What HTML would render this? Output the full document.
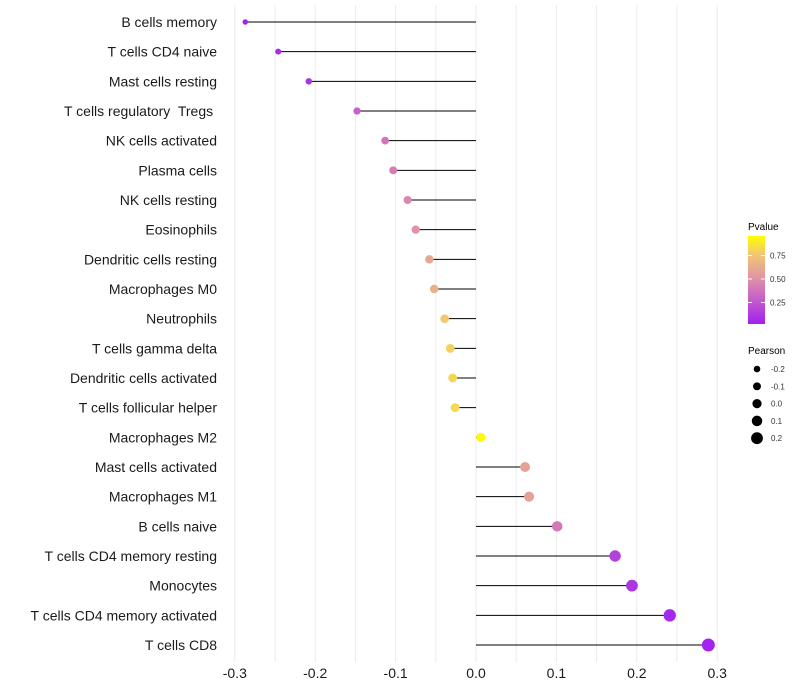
<!DOCTYPE html>
<html><head><meta charset="utf-8"><style>
body{margin:0;background:#fff;font-family:"Liberation Sans",sans-serif}
svg{display:block}
#ylab text{white-space:pre}
</style></head><body>
<svg id="chart" width="800" height="700" xmlns="http://www.w3.org/2000/svg">
<defs><linearGradient id="pg" x1="0" y1="1" x2="0" y2="0">
<stop offset="0" stop-color="#a020f0"/><stop offset="0.3" stop-color="#c862c8"/><stop offset="0.55" stop-color="#e29aa0"/><stop offset="0.8" stop-color="#f2c870"/><stop offset="1" stop-color="#ffff00"/>
</linearGradient></defs>
<g id="grid"></g>
<g id="segs"></g>
<g id="pts"></g>
<g id="ylab"></g>
<g id="xlab"></g>
<g>
<text x="748" y="230" font-size="10">Pvalue</text>
<rect x="748" y="236" width="17" height="88" fill="url(#pg)"/>
<g id="cbt"></g>
</g>
<g>
<text x="748" y="354" font-size="10">Pearson</text>
<g id="szl"></g>
</g>
</svg>
<script>
const categories=["B cells memory","T cells CD4 naive","Mast cells resting","T cells regulatory  Tregs ","NK cells activated","Plasma cells","NK cells resting","Eosinophils","Dendritic cells resting","Macrophages M0","Neutrophils","T cells gamma delta","Dendritic cells activated","T cells follicular helper","Macrophages M2","Mast cells activated","Macrophages M1","B cells naive","T cells CD4 memory resting","Monocytes","T cells CD4 memory activated","T cells CD8"];
const pearson=[-0.287,-0.246,-0.208,-0.148,-0.113,-0.103,-0.085,-0.075,-0.058,-0.052,-0.039,-0.032,-0.029,-0.026,0.006,0.061,0.066,0.101,0.173,0.194,0.241,0.289];
const pvalue=[0.01,0.05,0.1,0.3,0.38,0.42,0.47,0.52,0.62,0.67,0.8,0.83,0.85,0.86,0.98,0.6,0.58,0.4,0.15,0.1,0.04,0.02];
const xTicks=[-0.3,-0.2,-0.1,0.0,0.1,0.2,0.3];
const xTickLabels=["-0.3","-0.2","-0.1","0.0","0.1","0.2","0.3"];
const cbTicks=[0.25,0.5,0.75];
const sizeLegend=[-0.2,-0.1,0.0,0.1,0.2];
const NS="http://www.w3.org/2000/svg";
const X=v=>476+v*804, Y=i=>22+i*29.667, R=v=>4.6+v*6.5;
const cbY=p=>326-p*94;
function col(p){const st=[[0,[160,32,240]],[0.3,[200,98,200]],[0.55,[226,154,160]],[0.8,[242,200,112]],[1,[255,255,0]]];
for(let k=1;k<st.length;k++){if(p<=st[k][0]){const a=st[k-1],b=st[k],t=(p-a[0])/(b[0]-a[0]);return `rgb(${a[1].map((c,j)=>Math.round(c+(b[1][j]-c)*t)).join(',')})`;}}return 'rgb(255,255,0)';}
function mk(t,at,parent){const e=document.createElementNS(NS,t);for(const k in at)e.setAttribute(k,at[k]);parent.appendChild(e);return e;}
const g=document.getElementById('grid');
for(let v=-0.3;v<=0.301;v+=0.05){const e=mk('line',{x1:X(v),x2:X(v),y1:5,y2:662,stroke:'#ebebeb','stroke-width':1},g);

}
categories.forEach((c,i)=>{
const s=mk('line',{x1:X(0),x2:X(pearson[i]),y1:Y(i),y2:Y(i),stroke:'#000','stroke-width':1},document.getElementById('segs'));


const p=mk('circle',{cx:X(pearson[i]),cy:Y(i),r:R(pearson[i]),fill:col(pvalue[i])},document.getElementById('pts'));


const t=mk('text',{x:217,y:Y(i)+5,'text-anchor':'end','font-size':14,fill:'#1a1a1a'},document.getElementById('ylab'));
t.textContent=c;


});
xTicks.forEach((v,i)=>{const t=mk('text',{x:X(v),y:678,'text-anchor':'middle','font-size':14,fill:'#1a1a1a'},document.getElementById('xlab'));
t.textContent=xTickLabels[i];

});
cbTicks.forEach(v=>{const t=mk('text',{x:770,y:cbY(v)+3,'font-size':8,fill:'#333'},document.getElementById('cbt'));
t.textContent=v.toFixed(2);


mk('line',{x1:748,x2:752,y1:cbY(v),y2:cbY(v),stroke:'#fff'},document.getElementById('cbt'));
mk('line',{x1:761,x2:765,y1:cbY(v),y2:cbY(v),stroke:'#fff'},document.getElementById('cbt'));});
sizeLegend.forEach((v,i)=>{const y=369+i*17.3;
const c=mk('circle',{cx:757,cy:y,r:R(v),fill:'#000'},document.getElementById('szl'));


const t=mk('text',{x:771,y:y+3,'font-size':8,fill:'#333'},document.getElementById('szl'));
t.textContent=v.toFixed(1);

});
</script>
</body></html>
